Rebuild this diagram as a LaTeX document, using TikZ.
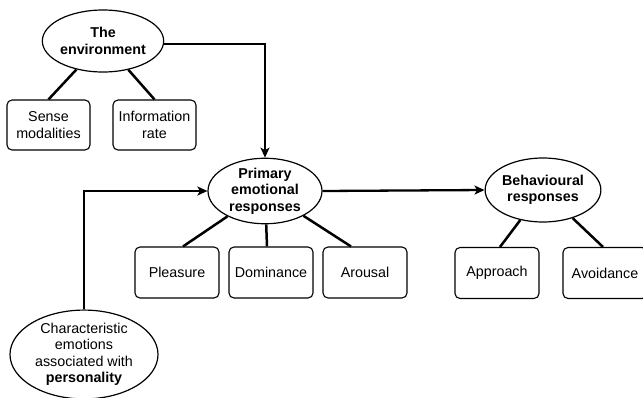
\documentclass[tikz,border=0pt]{standalone}
\usepackage{fontspec}
\setmainfont{Liberation Sans}
\usetikzlibrary{shapes.geometric,arrows.meta}
\tikzset{
  txt/.style={font=\fontsize{14.3}{16.5}\selectfont, align=center},
  oval/.style={txt, ellipse, draw, line width=1.2pt, inner sep=0pt},
  rbox/.style={txt, draw, line width=1.1pt, rounded corners=5pt, minimum width=84pt, minimum height=51pt, inner sep=0pt},
  link/.style={line width=2.5pt},
  flow/.style={line width=2.3pt, -{Stealth[length=10pt,width=9pt,inset=2.5pt]}}
}
\begin{document}
\begin{tikzpicture}[x=1pt,y=-1pt]
\useasboundingbox (0,0) rectangle (643,397);
\node[oval, minimum width=114pt, minimum height=62pt] (env) at (103,41) {\textbf{The}\\\textbf{environment}};
\node[rbox, minimum width=83pt, minimum height=50pt] (sense) at (48.5,125) {Sense\\modalities};
\node[rbox, minimum width=83pt, minimum height=50pt] (info) at (154.5,125) {Information\\rate};
\node[oval, minimum width=114pt, minimum height=64pt] (prim) at (265,191) {\textbf{Primary}\\\textbf{emotional}\\\textbf{responses}};
\node[rbox] (plea) at (177,272.5) {Pleasure};
\node[rbox] (dom) at (271,272.5) {Dominance};
\node[rbox] (aro) at (365,272.5) {Arousal};
\node[oval, minimum width=115pt, minimum height=64pt] (beh) at (543,190) {\textbf{Behavioural}\\\textbf{responses}};
\node[rbox] (app) at (497,273) {Approach};
\node[rbox] (avo) at (605,273) {Avoidance};
\node[oval, minimum width=148pt, minimum height=83pt] (char) at (84,354.5) {Characteristic\\emotions\\associated with\\\textbf{personality}};

\draw[link] (env) -- (sense.north);
\draw[link] (env) -- (info.north);
\draw[link] (prim) -- ([xshift=6pt]plea.north);
\draw[link] (prim) -- ([xshift=-4pt]dom.north);
\draw[link] (prim) -- ([xshift=-14pt]aro.north);
\draw[link] (beh) -- ([xshift=3pt]app.north);
\draw[link] (beh) -- ([xshift=-2pt]avo.north);

\draw[flow] ([yshift=-3pt]env.east) -| (prim.north);
\draw[flow] (char.north) |- (prim.west);
\draw[flow] (prim.east) -- (beh.west);
\end{tikzpicture}
\end{document}
